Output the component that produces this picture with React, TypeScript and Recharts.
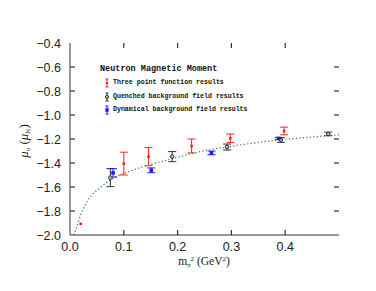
import React from 'react';
import { ComposedChart, XAxis, YAxis, Scatter, Line, ErrorBar, ReferenceLine } from 'recharts';

const xTicks = [0, 0.1, 0.2, 0.3, 0.4, 0.5];
const yTicks = [-2.0, -1.8, -1.6, -1.4, -1.2, -1.0, -0.8, -0.6, -0.4];

const threePoint = [
  { x: 0.02, y: -1.907, err: 0 },
  { x: 0.1, y: -1.405, err: 0.095 },
  { x: 0.146, y: -1.347, err: 0.075 },
  { x: 0.226, y: -1.258, err: 0.058 },
  { x: 0.298, y: -1.194, err: 0.036 },
  { x: 0.398, y: -1.133, err: 0.032 },
];
const quenched = [
  { x: 0.075, y: -1.522, err: 0.075 },
  { x: 0.19, y: -1.347, err: 0.042 },
  { x: 0.292, y: -1.267, err: 0.025 },
  { x: 0.392, y: -1.208, err: 0.02 },
  { x: 0.48, y: -1.158, err: 0.015 },
];
const dynamical = [
  { x: 0.08, y: -1.482, err: 0.035 },
  { x: 0.151, y: -1.461, err: 0.02 },
  { x: 0.263, y: -1.316, err: 0.015 },
  { x: 0.388, y: -1.195, err: 0.008 },
];
const fitCurve = [
  { x: 0.0074, y: -2.0 },
  { x: 0.012, y: -1.94 },
  { x: 0.021, y: -1.82 },
  { x: 0.0335, y: -1.71 },
  { x: 0.058, y: -1.597 },
  { x: 0.083, y: -1.522 },
  { x: 0.12, y: -1.455 },
  { x: 0.183, y: -1.372 },
  { x: 0.245, y: -1.302 },
  { x: 0.307, y: -1.256 },
  { x: 0.39, y: -1.207 },
  { x: 0.45, y: -1.183 },
  { x: 0.5, y: -1.165 },
];

const FRAME = '#333';
const TL = 5;
const M = 7;

const fmt = (v: number) => (v < 0 ? '\u2212' + Math.abs(v).toFixed(1) : v.toFixed(1));

const BottomTick = (p: any) => {
  const { x, y, payload } = p;
  if (payload.value > 0.45) return <g />;
  return (
    <text x={x} y={y} dy="0.71em" textAnchor="middle" fill="#222" fontSize={12.5} fontFamily="Liberation Sans, Arial, sans-serif">
      {payload.value.toFixed(1)}
    </text>
  );
};
const LeftTick = (p: any) => {
  const { x, y, payload } = p;
  return (
    <text x={x - 2} y={y} dy="0.36em" textAnchor="end" fill="#222" fontSize={12.5} fontFamily="Liberation Sans, Arial, sans-serif">
      {fmt(payload.value)}
    </text>
  );
};
const NoTick = () => <g />;

const VTickShape = (p: any) => {
  const { x1, y1, x2, y2 } = p;
  const top = Math.min(y1, y2);
  const bot = Math.max(y1, y2);
  return (
    <g>
      <line x1={x1} x2={x1} y1={top} y2={top + TL} stroke={FRAME} strokeWidth={1.2} />
      <line x1={x2} x2={x2} y1={bot} y2={bot - TL} stroke={FRAME} strokeWidth={1.2} />
    </g>
  );
};
const HTickShape = (p: any) => {
  const { x1, y1, x2, y2 } = p;
  const l = Math.min(x1, x2);
  const r = Math.max(x1, x2);
  return (
    <g>
      <line x1={l} x2={l + TL} y1={y1} y2={y1} stroke={FRAME} strokeWidth={1.2} />
      <line x1={r} x2={r - TL} y1={y2} y2={y2} stroke={FRAME} strokeWidth={1.2} />
    </g>
  );
};

const RedDot = (p: any) => <rect x={p.cx - 1.3} y={p.cy - 1.3} width={2.6} height={2.6} fill="#ff2020" />;
const BlackDot = (p: any) => <circle cx={p.cx} cy={p.cy} r={1.8} fill="#bbb" stroke="#333" strokeWidth={1} />;
const BlueDot = (p: any) => <rect x={p.cx - 1.8} y={p.cy - 1.8} width={3.6} height={3.6} fill="#1a1aff" />;

const YLabel = () => (
  <text
    x={17}
    y={133}
    transform="rotate(-90 17 133)"
    textAnchor="middle"
    dominantBaseline="middle"
    fill="#222"
    fontFamily="Liberation Serif, Times New Roman, serif"
    fontSize={13}
  >
    <tspan fontStyle="italic">μ</tspan>
    <tspan fontSize={7} dy={3}>n</tspan>
    <tspan dy={-3}> (</tspan>
    <tspan fontStyle="italic">μ</tspan>
    <tspan fontSize={7} dy={3}>N</tspan>
    <tspan dy={-3}>)</tspan>
  </text>
);

const legendFont = 'Liberation Mono, Courier New, monospace';

const LegendMark = ({ color, kind }: { color: string; kind: string }) => (
  <svg width={6} height={10} style={{ position: 'absolute', left: -9, top: -1 }}>
    <line x1={3} x2={3} y1={1} y2={9} stroke={color} />
    <line x1={1.5} x2={4.5} y1={1} y2={1} stroke={color} />
    <line x1={1.5} x2={4.5} y1={9} y2={9} stroke={color} />
    {kind === 'r' && <rect x={2} y={4} width={2} height={2} fill={color} />}
    {kind === 'c' && <circle cx={3} cy={5} r={1.6} fill="#bbb" stroke={color} />}
    {kind === 's' && <rect x={1.3} y={3.3} width={3.4} height={3.4} fill={color} />}
  </svg>
);

export default function App() {
  return (
    <div style={{ position: 'relative', width: 360, height: 275 }}>
      <ComposedChart width={360} height={275} margin={{ top: 35, right: 29, bottom: 18, left: 0 }}>
        <XAxis
          xAxisId="b"
          type="number"
          dataKey="x"
          domain={[0, 0.5]}
          ticks={xTicks}
          allowDataOverflow
          orientation="bottom"
          height={30}
          tickSize={0}
          tickMargin={M}
          tick={<BottomTick />}
          tickLine={false}
          axisLine={{ stroke: FRAME }}
        />
        <XAxis
          xAxisId="t"
          type="number"
          dataKey="x"
          domain={[0, 0.5]}
          ticks={xTicks}
          allowDataOverflow
          orientation="top"
          height={0}
          tickSize={0}
          tick={<NoTick />}
          tickLine={false}
          axisLine={{ stroke: FRAME }}
        />
        <YAxis
          yAxisId="l"
          type="number"
          domain={[-2, -0.4]}
          ticks={yTicks}
          allowDataOverflow
          orientation="left"
          width={62}
          tickSize={0}
          tickMargin={M}
          tick={<LeftTick />}
          tickLine={false}
          axisLine={{ stroke: FRAME }}
        />
        <YAxis
          yAxisId="r"
          type="number"
          domain={[-2, -0.4]}
          ticks={yTicks}
          allowDataOverflow
          orientation="right"
          width={0}
          tickSize={0}
          tick={<NoTick />}
          tickLine={false}
          axisLine={{ stroke: FRAME }}
        />
        {xTicks.slice(1, 5).map((t) => (
          <ReferenceLine key={'vx' + t} xAxisId="b" yAxisId="l" x={t} shape={(p: any) => <VTickShape {...p} />} />
        ))}
        {yTicks.slice(1, 8).map((t) => (
          <ReferenceLine key={'hy' + t} xAxisId="b" yAxisId="l" y={t} shape={(p: any) => <HTickShape {...p} />} />
        ))}
        <Line
          xAxisId="b"
          yAxisId="l"
          data={fitCurve}
          dataKey="y"
          type="monotone"
          dot={false}
          stroke="#3a9a3a"
          strokeWidth={1.3}
          strokeDasharray="1.3 2.2"
          isAnimationActive={false}
        />
        <Scatter xAxisId="b" yAxisId="l" data={threePoint} dataKey="y" shape={<RedDot />} isAnimationActive={false}>
          <ErrorBar dataKey="err" direction="y" width={4} stroke="#ff2020" strokeWidth={1} />
        </Scatter>
        <Scatter xAxisId="b" yAxisId="l" data={quenched} dataKey="y" shape={<BlackDot />} isAnimationActive={false}>
          <ErrorBar dataKey="err" direction="y" width={4} stroke="#333" strokeWidth={1} />
        </Scatter>
        <Scatter xAxisId="b" yAxisId="l" data={dynamical} dataKey="y" shape={<BlueDot />} isAnimationActive={false}>
          <ErrorBar dataKey="err" direction="y" width={4} stroke="#1a1aff" strokeWidth={1} />
        </Scatter>
        <YLabel />
      </ComposedChart>
      <div
        style={{
          position: 'absolute',
          left: 196,
          top: 244,
          transform: 'translateX(-50%)',
          whiteSpace: 'nowrap',
          fontFamily: 'Liberation Serif, Times New Roman, serif',
          fontSize: 11.5,
          lineHeight: '14px',
          color: '#222',
        }}
      >
        m<sub style={{ fontSize: 7, fontStyle: 'italic', verticalAlign: '-2px' }}>π</sub>
        <sup style={{ fontSize: 7, verticalAlign: '4px' }}>2</sup> (GeV<sup style={{ fontSize: 7, verticalAlign: '4px' }}>2</sup>)
      </div>
      <div style={{ position: 'absolute', left: 92, top: 55, fontFamily: legendFont, fontWeight: 'bold', color: '#111' }}>
        <div style={{ fontSize: 8.5, lineHeight: '12px' }}>Neutron Magnetic Moment</div>
        {[
          { t: 'Three point function results', c: '#ff2020', k: 'r', top: 16 },
          { t: 'Quenched background field results', c: '#333', k: 'c', top: 30 },
          { t: 'Dynamical background field results', c: '#1a1aff', k: 's', top: 43 },
        ].map((e) => (
          <div key={e.t} style={{ position: 'absolute', left: 13, top: e.top, fontSize: 6.6, lineHeight: '8px', whiteSpace: 'nowrap' }}>
            <LegendMark color={e.c} kind={e.k} />
            {e.t}
          </div>
        ))}
      </div>
    </div>
  );
}
